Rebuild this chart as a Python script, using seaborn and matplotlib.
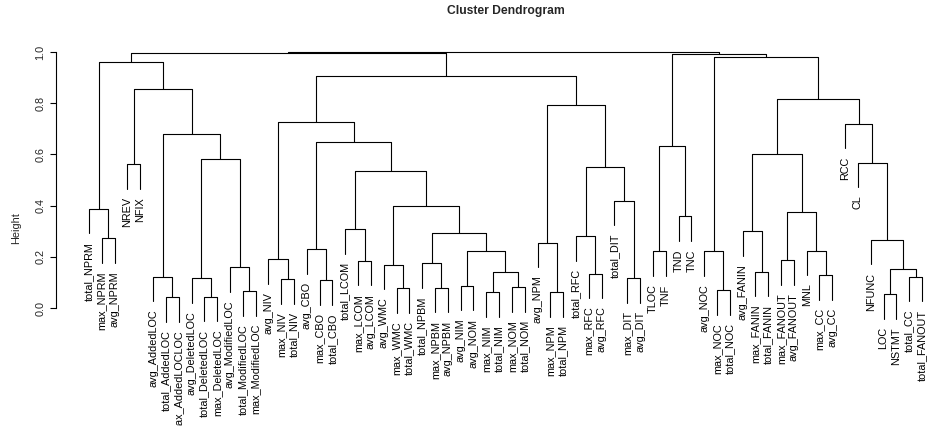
import numpy as np
import pandas as pd
import matplotlib
matplotlib.use("Agg")
import matplotlib.pyplot as plt
import seaborn as sns

# ---- data -------------------------------------------------------------
leaf_labels = [
    "total_NPRM", "max_NPRM", "avg_NPRM", "NREV", "NFIX",
    "avg_AddedLOC", "total_AddedLOC", "max_AddedLOCLOC",
    "avg_DeletedLOC", "total_DeletedLOC", "max_DeletedLOC",
    "avg_ModifiedLOC", "total_ModifiedLOC", "max_ModifiedLOC",
    "avg_NIV", "max_NIV", "total_NIV",
    "avg_CBO", "max_CBO", "total_CBO",
    "total_LCOM", "max_LCOM", "avg_LCOM",
    "avg_WMC", "max_WMC", "total_WMC",
    "total_NPBM", "max_NPBM", "avg_NPBM",
    "avg_NIM", "avg_NOM", "max_NIM", "total_NIM", "max_NOM", "total_NOM",
    "avg_NPM", "max_NPM", "total_NPM",
    "total_RFC", "max_RFC", "avg_RFC",
    "total_DIT", "max_DIT", "avg_DIT",
    "TLOC", "TNF", "TND", "TNC",
    "avg_NOC", "max_NOC", "total_NOC",
    "avg_FANIN", "max_FANIN", "total_FANIN",
    "max_FANOUT", "avg_FANOUT", "MNL", "max_CC", "avg_CC",
    "RCC", "CL", "NFUNC", "LOC", "NSTMT", "total_CC", "total_FANOUT",
]

# hclust-style merge table: negative = leaf (1-based position), positive = merge row
merge_left = [
    -2, -1, -4, -7, -6, -10, -9, -13, -12, 7, 5, 3, 2,
    -16, -15, -19, -18, -22, -21, -25, -24, -28, -27,
    -30, -32, -34, 25, 24, 23, 21, 19, 17, 15,
    -37, -36, -40, -39, -43, -42, 37, 35, 33, 13,
    -45, -47, 44, -50, -49, -53, -52, -55, -58, -57, 51, 50,
    -63, -65, 56, -62, -61, -60, 55, 48, 46, 43,
]
merge_right = [
    -3, 1, -5, -8, 4, -11, 6, -14, 8, 9, 10, 11, 12,
    -17, 14, -20, 16, -23, 18, -26, 20, -29, 22,
    -31, -33, -35, 26, 27, 28, 29, 30, 31, 32,
    -38, 34, -41, 36, -44, 38, 39, 40, 41, 42,
    -46, -48, 45, -51, 47, -54, 49, -56, -59, 52, 53, 54,
    -64, -66, 57, 58, 59, 60, 61, 62, 63, 64,
]
merge_height = [
    0.272, 0.387, 0.5625, 0.042, 0.122, 0.044, 0.116, 0.066, 0.159, 0.581, 0.681, 0.854, 0.962,
    0.113, 0.190, 0.108, 0.229, 0.184, 0.307, 0.077, 0.169, 0.079, 0.174,
    0.087, 0.061, 0.081, 0.139, 0.224, 0.292, 0.400, 0.536, 0.650, 0.728,
    0.061, 0.255, 0.134, 0.281, 0.117, 0.419, 0.551, 0.792, 0.906, 0.998,
    0.221, 0.358, 0.633, 0.070, 0.221, 0.142, 0.299, 0.186, 0.129, 0.224, 0.375, 0.603,
    0.054, 0.122, 0.151, 0.266, 0.568, 0.720, 0.818, 0.982, 0.992, 1.000,
]
y_ticks = [0.0, 0.2, 0.4, 0.6, 0.8, 1.0]
hang = 0.1

# ---- layout of the tree (R plot.hclust convention) ---------------------
h_range = max(merge_height) - min(merge_height)
n_merge = len(merge_height)
node_x = [0.0] * n_merge
leaf_y = {}
segs = []

def child_pos(c, parent_h):
    if c < 0:
        y = parent_h - hang * h_range
        leaf_y[-c] = y
        return float(-c), y
    return node_x[c - 1], merge_height[c - 1]

for i in range(n_merge):
    h = merge_height[i]
    xl, yl = child_pos(merge_left[i], h)
    xr, yr = child_pos(merge_right[i], h)
    node_x[i] = (xl + xr) / 2
    for k, (px, py) in enumerate([(xl, yl), (xl, h), (xr, h), (xr, yr)]):
        segs.append({"seg": i, "order": k, "x": px, "y": py})

df = pd.DataFrame(segs)

# ---- drawing -----------------------------------------------------------
sns.set_style("white")
plt.rcParams["font.family"] = ["Liberation Sans", "DejaVu Sans"]

W, H = 929, 426
fig = plt.figure(figsize=(W / 100, H / 100), dpi=100)
n = len(leaf_labels)
pad = 0.04 * (n - 1)
xlim = (1 - pad, n + pad)
ylim = (-0.06, 1.04)
px_per_x = (922 - 89) / (n - 1)
px_per_y = 256.0
ax_left = 89 - (1 - xlim[0]) * px_per_x
ax_w = (xlim[1] - xlim[0]) * px_per_x
ax_top = 52 - (ylim[1] - 1.0) * px_per_y
ax_h = (ylim[1] - ylim[0]) * px_per_y
ax = fig.add_axes([ax_left / W, 1 - (ax_top + ax_h) / H, ax_w / W, ax_h / H])

sns.lineplot(data=df, x="x", y="y", units="seg", estimator=None, sort=False,
             color="black", linewidth=0.8, ax=ax, legend=False)
for line in ax.get_lines():
    line.set_clip_on(False)

for i, lab in enumerate(leaf_labels, start=1):
    ax.annotate(lab, xy=(i, leaf_y[i]), xytext=(0, -6), textcoords="offset points",
                rotation=90, ha="center", va="top", fontsize=7.8, color="black",
                annotation_clip=False)

ax.set_xlim(*xlim)
ax.set_ylim(*ylim)
ax.set_xlabel("")
ax.set_ylabel("")
ax.set_xticks([])
ax.set_yticks(y_ticks)
ax.set_yticklabels([f"{t:.1f}" for t in y_ticks], rotation=90, va="center", fontsize=7.8)
ax.tick_params(axis="y", direction="out", length=4.3, width=0.8, pad=3, color="black", left=True)
sns.despine(ax=ax, top=True, right=True, bottom=True)
ax.spines["left"].set_bounds(0, 1)
ax.spines["left"].set_linewidth(0.8)
ax.spines["left"].set_color("black")
ax.patch.set_alpha(0)

fig.text(16 / W, 1 - 228 / H, "Height", rotation=90, ha="center", va="center", fontsize=7.8)
fig.text(505.5 / W, 1 - 11 / H, "Cluster Dendrogram", ha="center", va="center",
         fontsize=8.7, fontweight="bold")

fig.savefig("out.png", dpi=100)
